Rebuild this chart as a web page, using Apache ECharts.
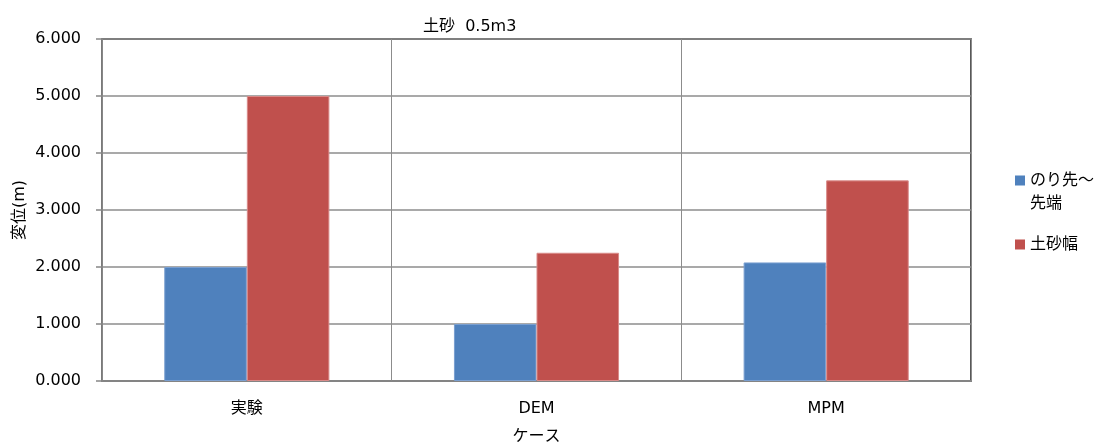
<!DOCTYPE html>
<html><head><meta charset="utf-8">
<script src="https://cdn.jsdelivr.net/npm/echarts@6/dist/echarts.min.js"></script>
<style>html,body{margin:0;padding:0;background:#fff}#c{width:1098px;height:444px}</style>
</head><body><div id="c"></div>
<script>
const categories = ['実験', 'DEM', 'MPM'];
const seriesNames = ['のり先～先端', '土砂幅'];
const tipToTip = [2.00, 1.00, 2.08];
const soilWidth = [5.00, 2.25, 3.52];
const yTicks = { min: 0, max: 6, interval: 1 };
const titleText = '土砂  0.5m3';
const yName = '変位(m)';
const xName = 'ケース';

const FONT = '"DejaVu Sans", "Noto Sans CJK JP", sans-serif';
// legend icons: square aligned to first text line (dummy points keep the box height)
const iconTop = 'path://M0,0h10v10h-10z M5,33L5.01,33';
const iconMid = 'path://M0,11.5h10v10h-10z M5,0L5.01,0 M5,33L5.01,33';

const chart = echarts.init(document.getElementById('c'), null, {renderer: 'canvas'});
chart.setOption({
  animation: false,
  backgroundColor: '#fff',
  textStyle: { fontFamily: FONT },
  title: {
    text: titleText, left: 423, top: 19, padding: 0,
    textStyle: { fontSize: 16, fontWeight: 'normal', color: '#000', fontFamily: FONT }
  },
  legend: {
    orient: 'vertical', left: 1015, top: 169, padding: 0,
    itemWidth: 10, itemHeight: 33, itemGap: 13,
    itemStyle: { borderWidth: 0 },
    data: [{ name: seriesNames[0], icon: iconTop }, { name: seriesNames[1], icon: iconMid }],
    formatter: n => n === seriesNames[0] ? 'のり先～\n先端' : n,
    textStyle: { fontSize: 16, color: '#000', fontFamily: FONT, lineHeight: 23 }
  },
  grid: {
    left: 102, right: 127, top: 39, bottom: 63,
    outerBoundsMode: 'none', containLabel: false,
    show: true, borderColor: '#222', borderWidth: 1.5
  },
  xAxis: {
    type: 'category', data: categories,
    name: xName, nameLocation: 'middle', nameGap: 48, nameMoveOverlap: false,
    nameTextStyle: { fontSize: 16, color: '#000', fontFamily: FONT },
    axisLine: { lineStyle: { color: '#868686', width: 1.5 } },
    axisTick: { show: false },
    axisLabel: { fontSize: 16, color: '#000', margin: 20, fontFamily: FONT },
    splitLine: { show: true, lineStyle: { color: '#8c8c8c', width: 1 } }
  },
  yAxis: {
    type: 'value', min: yTicks.min, max: yTicks.max, interval: yTicks.interval,
    name: yName, nameLocation: 'middle', nameGap: 74, nameRotate: 90, nameMoveOverlap: false,
    nameTextStyle: { fontSize: 16, color: '#000', fontFamily: FONT },
    axisLine: { show: true, lineStyle: { color: '#868686', width: 1.5 } },
    axisTick: { show: true, length: 6, lineStyle: { color: '#868686', width: 1.5 } },
    axisLabel: { fontSize: 16, color: '#000', margin: 21, fontFamily: FONT,
      formatter: v => v.toFixed(3) },
    splitLine: { show: true, lineStyle: { color: '#8c8c8c', width: 1.5 } }
  },
  series: [
    { name: seriesNames[0], type: 'bar', data: tipToTip, barGap: '0%', barCategoryGap: '43%',
      itemStyle: { color: '#4F81BD', borderColor: '#7a9fd0', borderWidth: 1 } },
    { name: seriesNames[1], type: 'bar', data: soilWidth, barGap: '0%', barCategoryGap: '43%',
      itemStyle: { color: '#C0504D', borderColor: '#d98a88', borderWidth: 1 } }
  ]
});
</script></body></html>
